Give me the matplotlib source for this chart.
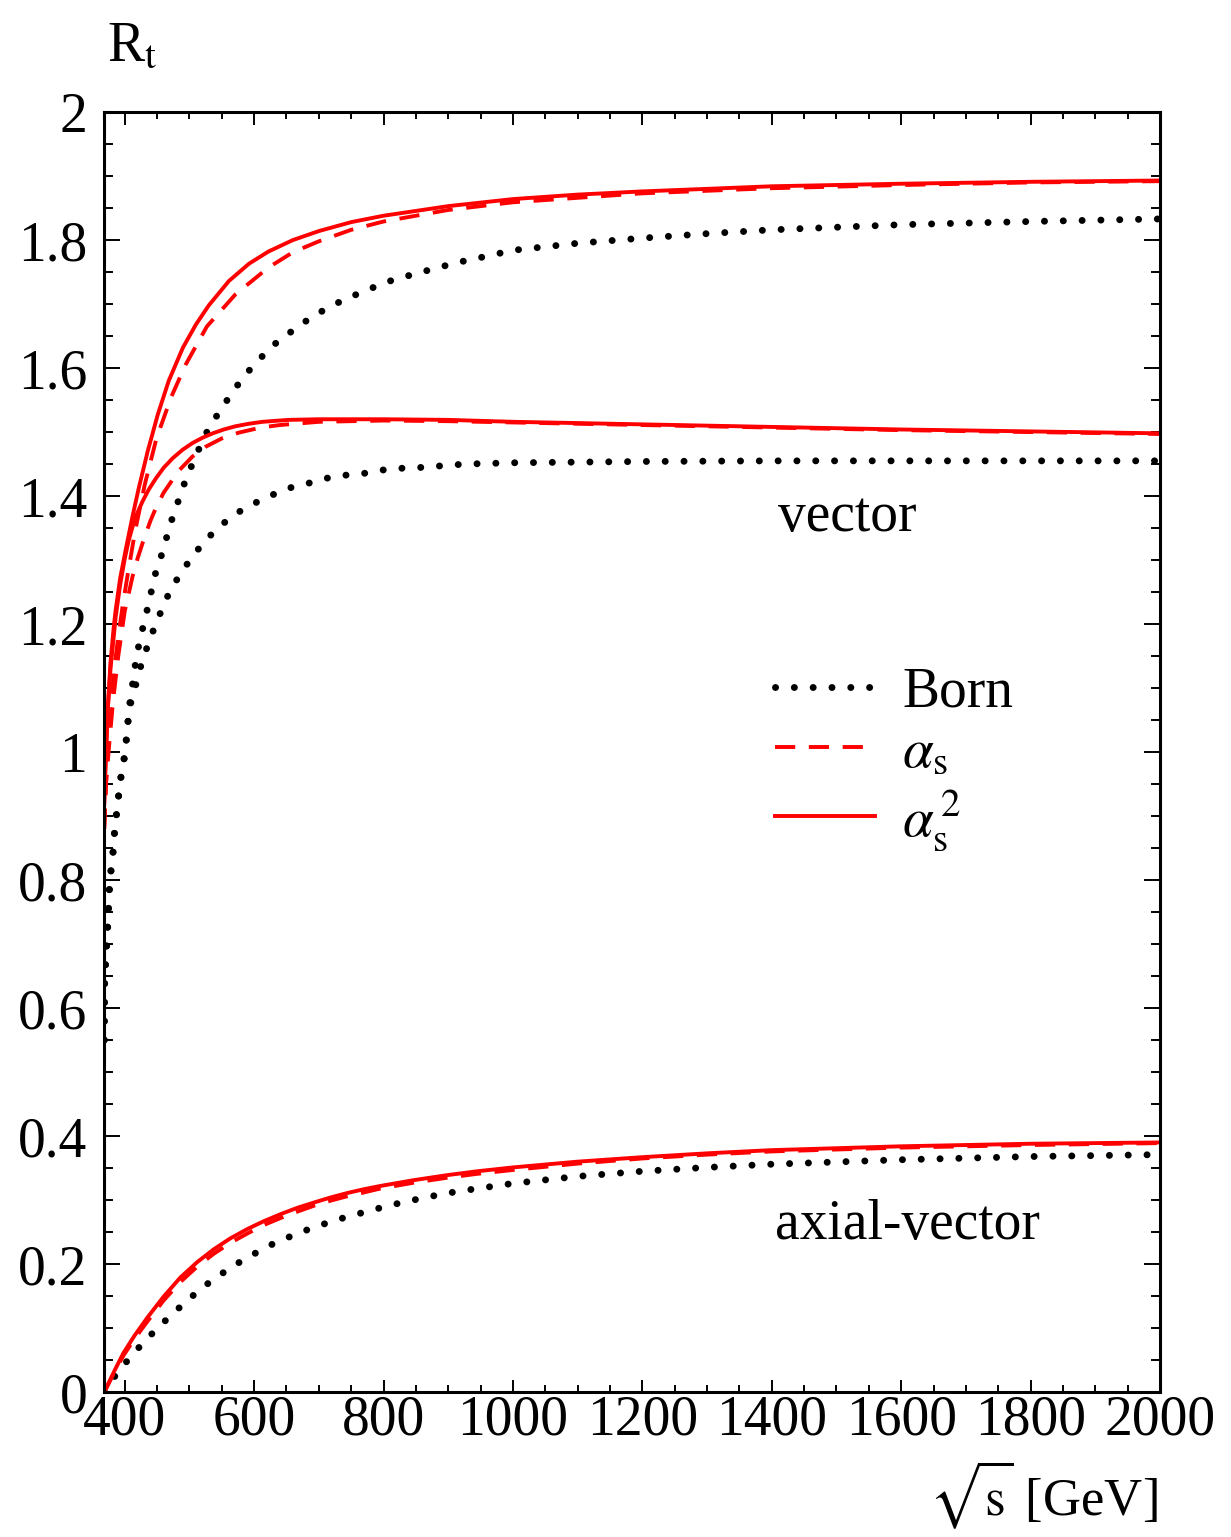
import numpy as np
import matplotlib.pyplot as plt
from matplotlib.ticker import MultipleLocator

plt.rcParams['font.family'] = ['Liberation Serif', 'DejaVu Serif']
plt.rcParams['mathtext.fontset'] = 'stix'

# vector, upper group
born_top_x = [368.3, 368.8, 370.0, 371.5, 373.0, 374.5, 375.5, 377.0, 380.0, 382.9, 384.4, 387.6,
              390.7, 393.8, 398.4, 401.5, 404.6, 406.1, 410.8, 413.9, 418.5, 423.1, 430, 436, 442,
              448, 456, 462, 470, 480, 490, 502, 514, 527, 542, 559, 577, 597, 617, 640, 665, 689,
              716, 743, 771, 800, 830, 859, 888, 919, 947, 1000, 1100, 1200, 1300, 1400, 1600,
              1800, 2000]
born_top_y = [0.55, 0.636, 0.664, 0.69, 0.717, 0.742, 0.772, 0.797, 0.827, 0.852, 0.878, 0.906,
              0.933, 0.959, 0.984, 1.011, 1.039, 1.066, 1.094, 1.123, 1.148, 1.175, 1.202, 1.228,
              1.255, 1.281, 1.305, 1.325, 1.355, 1.384, 1.414, 1.444, 1.472, 1.5, 1.525, 1.551,
              1.577, 1.602, 1.623, 1.645, 1.662, 1.68, 1.695, 1.709, 1.72, 1.733, 1.742, 1.75,
              1.758, 1.766, 1.772, 1.784, 1.795, 1.803, 1.81, 1.816, 1.824, 1.829, 1.833]

as1_top_x = [368.3, 371, 375, 380, 385, 390, 397, 405, 416, 431, 449, 472, 494, 527, 571, 622,
             660, 700, 750, 800, 900, 1000, 1200, 1400, 1600, 1800, 2000]
as1_top_y = [0.88, 0.95, 1.03, 1.09, 1.14, 1.18, 1.23, 1.28, 1.345, 1.418, 1.49, 1.555, 1.605,
             1.665, 1.715, 1.757, 1.781, 1.798, 1.816, 1.829, 1.847, 1.859, 1.873, 1.881, 1.886,
             1.890, 1.892]

as2_top_x = [368.3, 371, 374, 378, 383, 386, 393, 401.5, 412, 421.6, 435.5, 451, 468, 490,
             510, 530, 561, 592, 622, 660, 700, 750, 800, 900, 1000, 1100, 1200, 1300, 1400,
             1600, 1800, 2000]
as2_top_y = [0.92, 1.0, 1.07, 1.14, 1.195, 1.222, 1.272, 1.316, 1.368, 1.412, 1.47, 1.527, 1.58,
             1.632, 1.668, 1.698, 1.736, 1.763, 1.782, 1.80, 1.814, 1.828, 1.838, 1.853, 1.864,
             1.871, 1.876, 1.880, 1.884, 1.888, 1.891, 1.893]

# vector
born_mid_x = [368.3, 368.8, 370.0, 371.5, 373.0, 374.5, 375.5, 377.0, 380.0, 382.9, 384.4, 387.6,
              390.7, 393.8, 398.4, 401.5, 404.6, 406.1, 414, 420, 427, 436, 446, 457, 470, 487,
              505, 524, 546, 571, 597, 624, 652, 684, 713, 744, 775, 806, 837, 866, 897, 928,
              1000, 1200, 1400, 2000]
born_mid_y = [0.55, 0.636, 0.664, 0.69, 0.717, 0.742, 0.772, 0.797, 0.827, 0.852, 0.878, 0.906,
              0.933, 0.959, 0.984, 1.011, 1.039, 1.066, 1.092, 1.117, 1.142, 1.168, 1.195, 1.222,
              1.252, 1.28, 1.306, 1.33, 1.352, 1.372, 1.387, 1.40, 1.412, 1.42, 1.428, 1.433,
              1.436, 1.442, 1.444, 1.445, 1.448, 1.45, 1.452, 1.454, 1.455, 1.455]

as1_mid_x = [368.3, 371, 375, 382, 390, 400, 412, 420, 430, 440, 448, 460, 483, 505, 525, 550,
             576, 610, 640, 700, 800, 900, 1000, 1200, 1400, 1600, 1800, 2000]
as1_mid_y = [0.88, 0.95, 1.0, 1.08, 1.15, 1.22, 1.274, 1.303, 1.334, 1.362, 1.381, 1.405, 1.439,
             1.462, 1.477, 1.49, 1.499, 1.507, 1.511, 1.516, 1.518, 1.517, 1.515, 1.511, 1.507,
             1.503, 1.500, 1.497]

as2_mid_x = [368.3, 371, 374, 378, 383, 386, 393, 400, 406, 416, 427.7, 437, 447.8, 460, 474,
             489, 505, 520, 536, 553, 571, 592, 613, 653, 700, 800, 900, 1000, 1200, 1400, 1600,
             1800, 2000]
as2_mid_y = [0.92, 1.0, 1.07, 1.13, 1.18, 1.211, 1.262, 1.302, 1.33, 1.366, 1.392, 1.41, 1.427,
             1.444, 1.459, 1.472, 1.483, 1.491, 1.498, 1.504, 1.509, 1.513, 1.516, 1.519, 1.52,
             1.52, 1.519, 1.516, 1.512, 1.508, 1.504, 1.501, 1.498]

# axial-vector
born_ax_x = [368.5, 375, 385, 395, 414, 437, 457, 479, 503.5, 525, 550, 576, 602, 630, 658, 686,
             715, 744, 774, 803, 832, 865, 894, 925, 1000, 1100, 1200, 1300, 1400, 1600, 1800,
             2000]
born_ax_y = [0.0, 0.012, 0.025, 0.038, 0.061, 0.086, 0.106, 0.127, 0.149, 0.167, 0.185, 0.202,
             0.217, 0.232, 0.244, 0.255, 0.265, 0.274, 0.282, 0.29, 0.297, 0.304, 0.31, 0.315,
             0.326, 0.337, 0.345, 0.351, 0.356, 0.363, 0.368, 0.371]

ax_x = [368.5, 375, 385, 398, 415, 435.5, 460, 486, 512, 537.5, 563, 590, 615, 641, 667, 692,
        718, 744, 770, 795, 846, 899, 945, 1000, 1100, 1200, 1300, 1400, 1600, 1800, 2000]
as1_ax_y = [0.0, 0.013, 0.033, 0.057, 0.083, 0.111, 0.143, 0.172, 0.196, 0.216, 0.233, 0.248,
            0.261, 0.272, 0.282, 0.291, 0.299, 0.306, 0.312, 0.318, 0.327, 0.335, 0.341, 0.347,
            0.357, 0.365, 0.371, 0.376, 0.382, 0.386, 0.389]
as2_ax_y = [0.0, 0.014, 0.035, 0.061, 0.088, 0.117, 0.149, 0.179, 0.203, 0.223, 0.240, 0.255,
            0.267, 0.278, 0.288, 0.296, 0.304, 0.311, 0.317, 0.322, 0.331, 0.339, 0.345, 0.351,
            0.36, 0.367, 0.373, 0.378, 0.384, 0.388, 0.390]

x_ticks = [400, 600, 800, 1000, 1200, 1400, 1600, 1800, 2000]
y_ticks = [0, 0.2, 0.4, 0.6, 0.8, 1, 1.2, 1.4, 1.6, 1.8, 2]
y_tick_labels = ['0', '0.2', '0.4', '0.6', '0.8', '1', '1.2', '1.4', '1.6', '1.8', '2']

dot = dict(color='black', lw=5, ls=(0, (0.01, 2.7)), dash_capstyle='round')
dash = dict(color='#ff0000', lw=2.8, ls=(0, (5.2, 3.5)))
solid = dict(color='#ff0000', lw=2.8)

fig = plt.figure(figsize=(12.31, 15.37), dpi=100)
ax = fig.add_axes([0.0845, 0.0943, 0.8578, 0.8328])

h_born, = ax.plot(born_top_x, born_top_y, **dot)
ax.plot(born_mid_x, born_mid_y, **dot)
ax.plot(born_ax_x, born_ax_y, **dot)
h_as1, = ax.plot(as1_top_x, as1_top_y, **dash)
ax.plot(as1_mid_x, as1_mid_y, **dash)
ax.plot(ax_x, as1_ax_y, **dash)
h_as2, = ax.plot(as2_top_x, as2_top_y, **solid)
ax.plot(as2_mid_x, as2_mid_y, **solid)
ax.plot(ax_x, as2_ax_y, **solid)

ax.set_xlim(368, 2000)
ax.set_ylim(0, 2)
ax.set_xticks(x_ticks)
ax.set_xticklabels([str(v) for v in x_ticks])
ax.set_yticks(y_ticks)
ax.set_yticklabels(y_tick_labels)
ax.xaxis.set_minor_locator(MultipleLocator(50))
ax.yaxis.set_minor_locator(MultipleLocator(0.05))
ax.tick_params(axis='both', which='both', direction='in', top=True, right=True,
               labelsize=40, width=1.4, color='black')
ax.tick_params(axis='x', which='major', length=9, pad=2)
ax.tick_params(axis='x', which='minor', length=5)
ax.tick_params(axis='y', which='major', length=11.5, pad=12)
ax.tick_params(axis='y', which='minor', length=6.5)
for s in ax.spines.values():
    s.set_linewidth(2.2)

ax.text(1410, 1.367, 'vector', fontsize=40, va='center', ha='left')
ax.text(1405, 0.261, 'axial-vector', fontsize=40, va='center', ha='left')

ax.legend([h_born, h_as1, h_as2],
          ['Born', r'$\alpha_{\mathrm{s}}$', r'$\alpha_{\mathrm{s}}^{\,2}$'],
          loc='upper left', bbox_to_anchor=(0.635, 0.567), frameon=False,
          fontsize=40, handlelength=1.8, handletextpad=0.5, labelspacing=0.15,
          borderpad=0, borderaxespad=0)

fig.text(107 / 1231, 1 - 60 / 1537, r'R$_{\mathrm{t}}$', fontsize=40, ha='left', va='baseline')
fig.text(1158 / 1231, 1 - 1515 / 1537, r'$\sqrt{\mathrm{s}}$ [GeV]', fontsize=38,
         ha='right', va='baseline')

fig.savefig('out.png', dpi=100)
